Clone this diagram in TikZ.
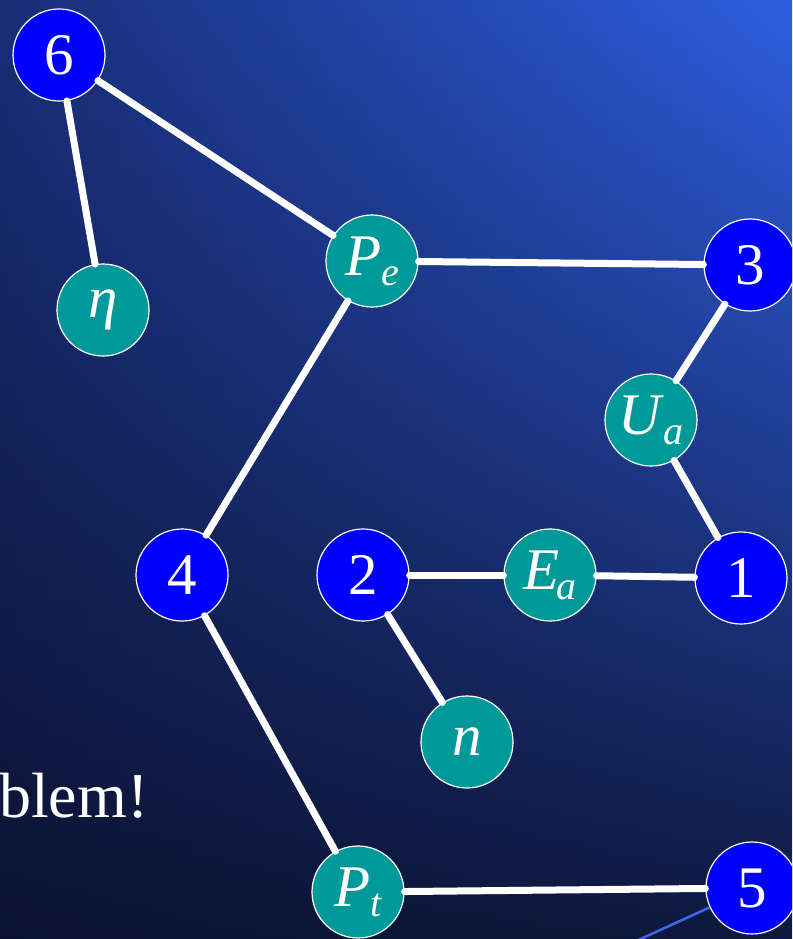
\documentclass[tikz,border=0pt]{standalone}
\usepackage{fontspec}
\setmainfont{Liberation Serif}
\usetikzlibrary{fadings}
\definecolor{bgleft}{RGB}{24,46,120}
\definecolor{bgmid}{RGB}{38,78,198}
\definecolor{bgright}{RGB}{47,95,225}
\definecolor{bgdark}{RGB}{10,15,40}
\definecolor{nodeblue}{RGB}{0,0,255}
\definecolor{nodeteal}{RGB}{0,153,153}
\definecolor{thinblue}{RGB}{60,105,235}
\tikzfading[name=vfade, top color=transparent!100, middle color=transparent!95, bottom color=transparent!12]
\newcommand\subl[2]{\textit{#1}\raisebox{-0.17em}{\fontsize{40}{40}\selectfont\textit{#2}}}
\tikzset{
  vtx/.style={circle, minimum size=92pt, inner sep=0pt, draw=white, line width=1.2pt,
    text=white, font=\fontsize{59}{61}\selectfont},
  bnode/.style={vtx, fill=nodeblue},
  tnode/.style={vtx, fill=nodeteal},
  edge/.style={draw=white, line width=7pt, line cap=round},
  thinedge/.style={draw=thinblue, line width=2.5pt}
}
\begin{document}
\begin{tikzpicture}[x=1pt,y=-1pt]
\useasboundingbox (0,0) rectangle (792,939);
\clip (0,0) rectangle (792,939);
\shade[left color=bgleft, middle color=bgmid, right color=bgright] (0,0) rectangle (792,939);
\fill[bgdark, path fading=vfade, fit fading=true] (0,0) rectangle (792,939);

\node[anchor=base west, inner sep=0pt, text=white, font=\fontsize{64}{66}\selectfont] (txt) at (-1,817) {blem!};

\node[bnode] (n6) at (59,55) {6};
\node[tnode] (eta) at (103,310) {\textit{η}};
\node[tnode] (pe) at (372,261) {\subl{P}{e}};
\node[bnode] (n3) at (750,265) {3};
\node[tnode] (ua) at (651,420) {\subl{U}{a}};
\node[bnode] (n4) at (182,575) {4};
\node[bnode] (n2) at (363,575) {2};
\node[tnode] (ea) at (550,575) {\textit{E}\kern-0.06em\raisebox{-0.17em}{\fontsize{40}{40}\selectfont\textit{a}}};
\node[bnode] (n1) at (741,578) {1};
\node[tnode] (nn) at (467,742) {\textit{n}};
\node[tnode] (pt) at (358,892) {\subl{P}{t}};
\node[bnode] (n5) at (752,888) {5};
\coordinate (off) at (540,985);

\draw[edge] (n6) -- (eta);
\draw[edge] (n6) -- (pe);
\draw[edge] (pe) -- (n3);
\draw[edge] (pe) -- (n4);
\draw[edge] (n3) -- (ua);
\draw[edge] (ua) -- (n1);
\draw[edge] (n2) -- (ea);
\draw[edge] (ea) -- (n1);
\draw[edge] (n2) -- (nn);
\draw[edge] (n4) -- (pt);
\draw[edge] (pt) -- (n5);
\draw[thinedge] (n5) -- (off);
\end{tikzpicture}
\end{document}
